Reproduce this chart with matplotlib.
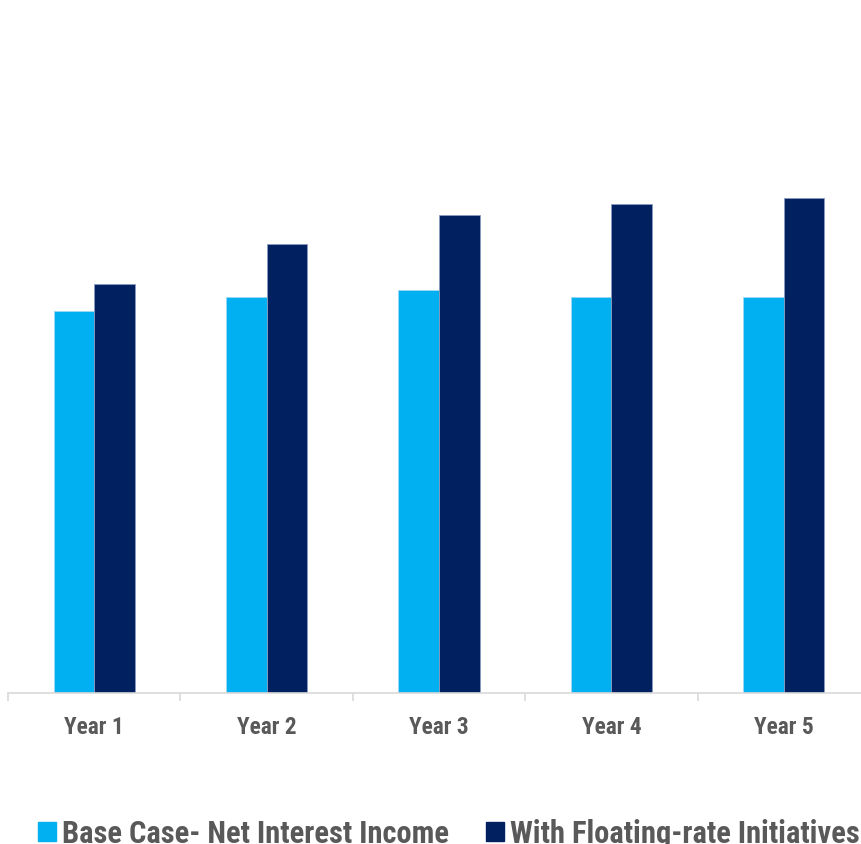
import matplotlib
matplotlib.use("Agg")
import matplotlib.pyplot as plt
import numpy as np
from matplotlib.patches import Patch

years = ["Year 1", "Year 2", "Year 3", "Year 4", "Year 5"]
base_case = [3.82, 3.96, 4.03, 3.96, 3.96]
floating = [4.09, 4.49, 4.78, 4.89, 4.95]

light = "#00B0F0"
dark = "#002060"
grey = "#595959"

plt.rcParams['font.family'] = ['Roboto Condensed', 'DejaVu Sans']

fig = plt.figure(figsize=(8.61, 8.45), dpi=100)
ax = fig.add_axes([8 / 861, 151 / 845, 862 / 861, 694 / 845])

x = np.arange(len(years))
w = 0.235
ax.bar(x - w / 2, base_case, w, color=light, edgecolor="#9FD8F5", linewidth=0.6)
ax.bar(x + w / 2, floating, w, color=dark, edgecolor="#8C9CC0", linewidth=0.6)

ax.set_xlim(-0.5, 4.5)
ax.set_ylim(0, 6.94)
ax.set_yticks([])
for s in ["top", "right", "left"]:
    ax.spines[s].set_visible(False)
ax.spines["bottom"].set_color("#D9D9D9")
ax.spines["bottom"].set_linewidth(1.2)

ax.set_xticks(x)
ax.set_xticklabels(years, fontsize=16.8, fontweight="bold", color=grey)
ax.tick_params(axis="x", which="major", length=0, pad=16)
ax.set_xticks(np.arange(-0.5, 5, 1), minor=True)
ax.tick_params(axis="x", which="minor", length=6, color="#D9D9D9", width=1.2)

handles = [Patch(color=light, label="Base Case- Net Interest Income"),
           Patch(color=dark, label="With Floating-rate Initiatives")]
fig.legend(handles=handles, loc="lower left", bbox_to_anchor=(38 / 861, -4 / 845),
           ncol=2, frameon=False, prop={"size": 22, "weight": "bold"},
           labelcolor=grey, handlelength=0.59, handleheight=0.59,
           handletextpad=0.2, columnspacing=1.2, borderaxespad=0,
           borderpad=0)

fig.savefig("out.png", dpi=100)
